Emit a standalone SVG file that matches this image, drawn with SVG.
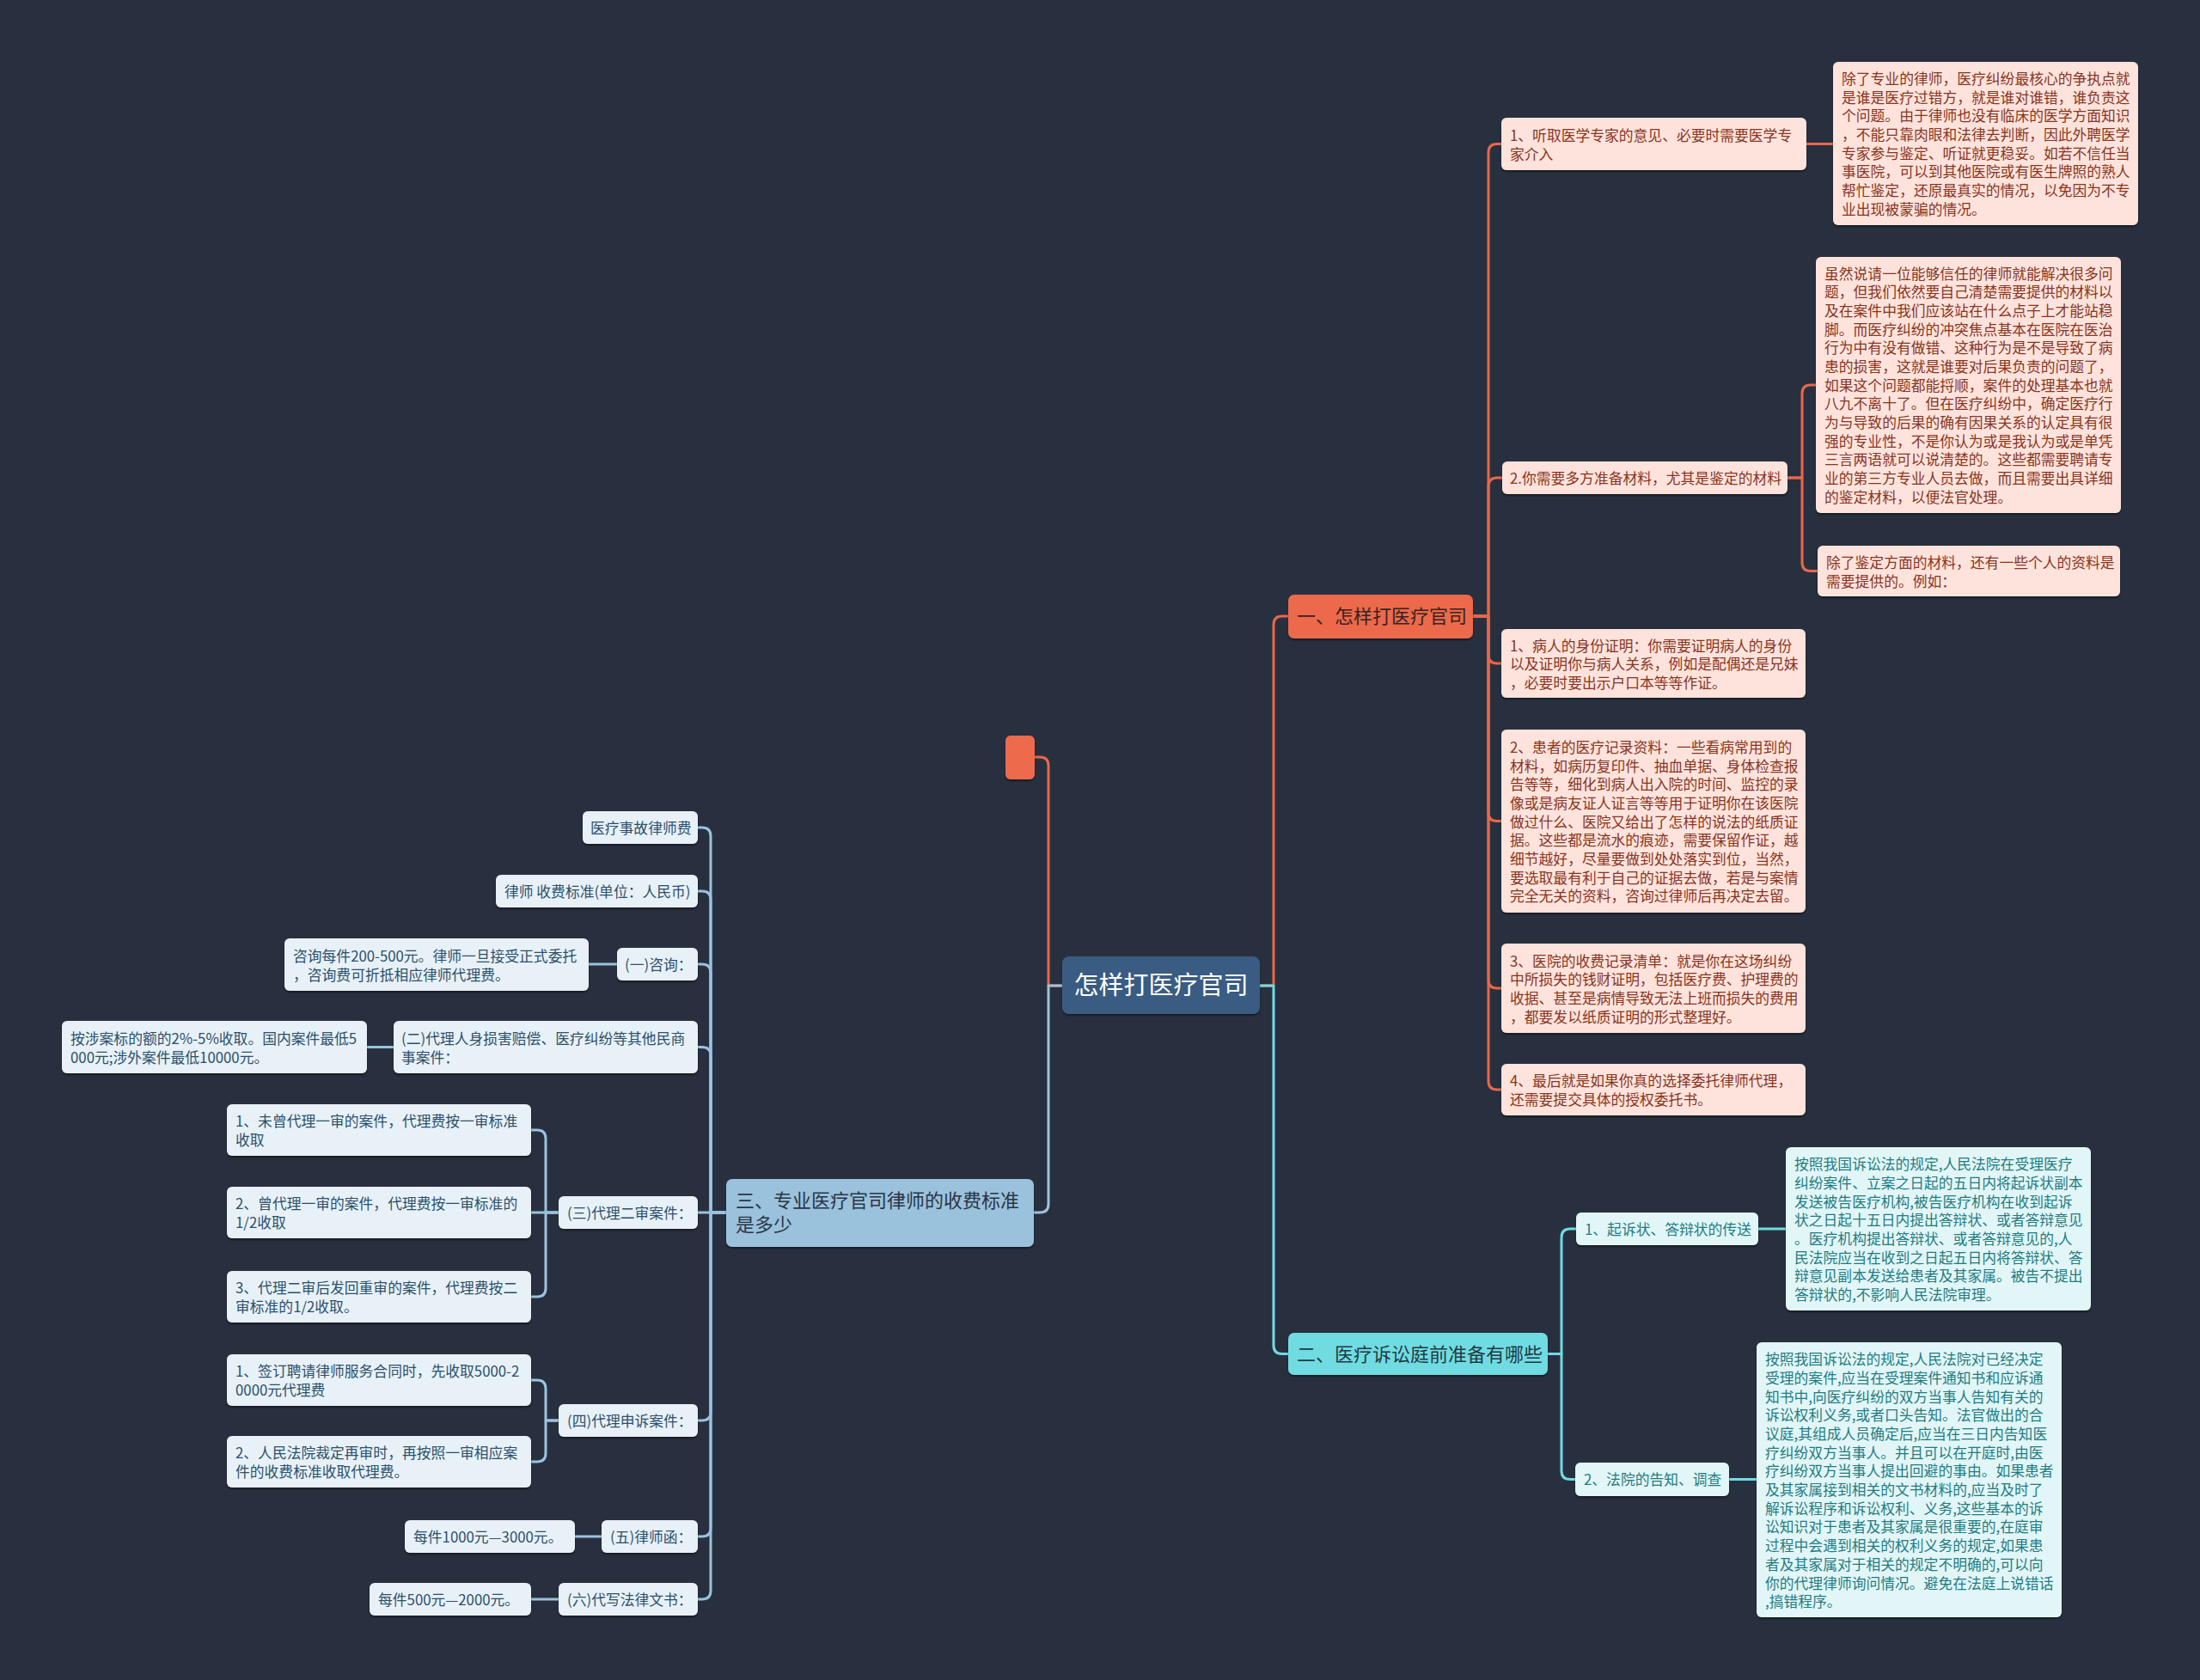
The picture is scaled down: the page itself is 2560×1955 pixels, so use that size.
<svg xmlns="http://www.w3.org/2000/svg" width="2560" height="1955" viewBox="0 0 2560 1955">
<defs>
<filter id="sh" x="-5%" y="-5%" width="110%" height="120%">
<feDropShadow dx="0" dy="2" stdDeviation="1.2" flood-color="#000" flood-opacity="0.45"/>
</filter>
<style>
text{font-family:"Noto Sans CJK SC","Noto Sans",sans-serif;font-size:16.8px}
.or{fill:#fde3dc;filter:url(#sh)}
.cy{fill:#e2f6f7;filter:url(#sh)}
.bl{fill:#e8f1f7;filter:url(#sh)}
.tor{fill:#8a3421}
.tcy{fill:#1f7c83}
.tbl{fill:#2b506d}
.c{fill:none;stroke-width:3;stroke-linecap:round;stroke-linejoin:round}
.cor{stroke:#e8674b}
.ccy{stroke:#6fdce2}
.cbl{stroke:#9ac3dd}
.h1{font-size:22px}
</style>
</defs>
<rect x="0" y="0" width="2560" height="1955" fill="#28303f"/>

<g id="connectors">
<path class="c cor" d="M1236,1147 H1220 V891 Q1220,881 1210,881 H1204"/>
<path class="c cbl" d="M1236,1147 H1220 V1401 Q1220,1411 1210,1411 H1203"/>
<path class="c cor" d="M1466,1147 H1482 V727 Q1482,717 1492,717 H1499"/>
<path class="c ccy" d="M1466,1147 H1482 V1565.5 Q1482,1575.5 1492,1575.5 H1499"/>

<path class="c cor" d="M1714,717 H1732 V177.5 Q1732,167.5 1742,167.5 H1747"/>
<path class="c cor" d="M1714,717 H1732 V566 Q1732,556 1742,556 H1748"/>
<path class="c cor" d="M1714,717 H1732 V762 Q1732,772 1742,772 H1747"/>
<path class="c cor" d="M1714,717 H1732 V945.5 Q1732,955.5 1742,955.5 H1747"/>
<path class="c cor" d="M1714,717 H1732 V1140 Q1732,1150 1742,1150 H1747"/>
<path class="c cor" d="M1714,717 H1732 V1258 Q1732,1268 1742,1268 H1747"/>
<path class="c cor" d="M2102,167.5 H2133"/>
<path class="c cor" d="M2080,556 H2097 V458 Q2097,448 2107,448 H2113"/>
<path class="c cor" d="M2080,556 H2097 V654.5 Q2097,664.5 2107,664.5 H2115"/>

<path class="c ccy" d="M1801,1575.5 H1817 V1440 Q1817,1430 1827,1430 H1834"/>
<path class="c ccy" d="M1801,1575.5 H1817 V1711.5 Q1817,1721.5 1827,1721.5 H1833"/>
<path class="c ccy" d="M2046,1430 H2078"/>
<path class="c ccy" d="M2012,1721.5 H2044"/>

<path class="c cbl" d="M845,1411 H827 V973 Q827,963 817,963 H812"/>
<path class="c cbl" d="M845,1411 H827 V1047 Q827,1037 817,1037 H812"/>
<path class="c cbl" d="M845,1411 H827 V1132 Q827,1122 817,1122 H812"/>
<path class="c cbl" d="M845,1411 H827 V1228.5 Q827,1218.5 817,1218.5 H812"/>
<path class="c cbl" d="M845,1411 H812"/>
<path class="c cbl" d="M845,1411 H827 V1643 Q827,1653 817,1653 H812"/>
<path class="c cbl" d="M845,1411 H827 V1778 Q827,1788 817,1788 H812"/>
<path class="c cbl" d="M845,1411 H827 V1851 Q827,1861 817,1861 H812"/>
<path class="c cbl" d="M718,1122 H685"/>
<path class="c cbl" d="M458,1218.5 H427"/>
<path class="c cbl" d="M650,1411 H635 V1325 Q635,1315 625,1315 H618"/>
<path class="c cbl" d="M650,1411 H618"/>
<path class="c cbl" d="M650,1411 H635 V1499 Q635,1509 625,1509 H618"/>
<path class="c cbl" d="M650,1653 H635 V1616 Q635,1606 625,1606 H618"/>
<path class="c cbl" d="M650,1653 H635 V1691 Q635,1701 625,1701 H618"/>
<path class="c cbl" d="M700,1788 H669"/>
<path class="c cbl" d="M650,1861 H618"/>
</g>

<g id="root">
<rect x="1236" y="1113" width="230" height="67" rx="8" fill="#3b5b82" filter="url(#sh)"/>
<text x="1351" y="1157" text-anchor="middle" fill="#ffffff" style="font-size:29px">怎样打医疗官司</text>
</g>

<g id="empty-topic">
<rect x="1170" y="856" width="34" height="51" rx="6" fill="#ee6b4d" filter="url(#sh)"/>
</g>

<g id="b1">
<rect x="1499" y="692" width="215" height="51" rx="7" fill="#ec6a4c" filter="url(#sh)"/>
<text class="h1" x="1509" y="725" fill="#3a2220">一、怎样打医疗官司</text>
</g>

<g id="b2">
<rect x="1499" y="1551" width="302" height="49" rx="7" fill="#6fdce2" filter="url(#sh)"/>
<text class="h1" x="1509" y="1583.5" fill="#1f3a44">二、医疗诉讼庭前准备有哪些</text>
</g>

<g id="b3">
<rect x="845" y="1372" width="358" height="79" rx="7" fill="#9ac2dc" filter="url(#sh)"/>
<text class="h1" fill="#2a3547"><tspan x="856" y="1405">三、专业医疗官司律师的收费标准</tspan><tspan x="856" y="1433">是多少</tspan></text>
</g>

<g id="b1-1">
<rect class="or" x="1747" y="137" width="355" height="61" rx="6"/>
<text class="tor"><tspan x="1757" y="163.5">1、听取医学专家的意见、必要时需要医学专</tspan><tspan x="1757" y="185.5">家介入</tspan></text>
</g>

<g id="b1-1-1">
<rect class="or" x="2133" y="72" width="355" height="190" rx="6"/>
<text class="tor"><tspan x="2143" y="98">除了专业的律师，医疗纠纷最核心的争执点就</tspan><tspan x="2143" y="119.5">是谁是医疗过错方，就是谁对谁错，谁负责这</tspan><tspan x="2143" y="141">个问题。由于律师也没有临床的医学方面知识</tspan><tspan x="2143" y="163">，不能只靠肉眼和法律去判断，因此外聘医学</tspan><tspan x="2143" y="184.5">专家参与鉴定、听证就更稳妥。如若不信任当</tspan><tspan x="2143" y="206">事医院，可以到其他医院或有医生牌照的熟人</tspan><tspan x="2143" y="228">帮忙鉴定，还原最真实的情况，以免因为不专</tspan><tspan x="2143" y="249.5">业出现被蒙骗的情况。</tspan></text>
</g>

<g id="b1-2">
<rect class="or" x="1748" y="537" width="332" height="38" rx="6"/>
<text class="tor" x="1757" y="562.5">2.你需要多方准备材料，尤其是鉴定的材料</text>
</g>

<g id="b1-2-1">
<rect class="or" x="2113" y="299" width="355" height="298" rx="6"/>
<text class="tor"><tspan x="2123" y="324.5">虽然说请一位能够信任的律师就能解决很多问</tspan><tspan x="2123" y="346">题，但我们依然要自己清楚需要提供的材料以</tspan><tspan x="2123" y="368">及在案件中我们应该站在什么点子上才能站稳</tspan><tspan x="2123" y="389.5">脚。而医疗纠纷的冲突焦点基本在医院在医治</tspan><tspan x="2123" y="411">行为中有没有做错、这种行为是不是导致了病</tspan><tspan x="2123" y="433">患的损害，这就是谁要对后果负责的问题了，</tspan><tspan x="2123" y="454.5">如果这个问题都能捋顺，案件的处理基本也就</tspan><tspan x="2123" y="476">八九不离十了。但在医疗纠纷中，确定医疗行</tspan><tspan x="2123" y="498">为与导致的后果的确有因果关系的认定具有很</tspan><tspan x="2123" y="519.5">强的专业性，不是你认为或是我认为或是单凭</tspan><tspan x="2123" y="541">三言两语就可以说清楚的。这些都需要聘请专</tspan><tspan x="2123" y="563">业的第三方专业人员去做，而且需要出具详细</tspan><tspan x="2123" y="584.5">的鉴定材料，以便法官处理。</tspan></text>
</g>

<g id="b1-2-2">
<rect class="or" x="2115" y="635" width="352" height="59" rx="6"/>
<text class="tor"><tspan x="2125" y="660.5">除了鉴定方面的材料，还有一些个人的资料是</tspan><tspan x="2125" y="682.5">需要提供的。例如：</tspan></text>
</g>

<g id="b1-3">
<rect class="or" x="1747" y="732" width="354" height="80" rx="6"/>
<text class="tor"><tspan x="1757" y="757.5">1、病人的身份证明：你需要证明病人的身份</tspan><tspan x="1757" y="779">以及证明你与病人关系，例如是配偶还是兄妹</tspan><tspan x="1757" y="800.5">，必要时要出示户口本等等作证。</tspan></text>
</g>

<g id="b1-4">
<rect class="or" x="1747" y="849" width="354" height="213" rx="6"/>
<text class="tor"><tspan x="1757" y="876">2、患者的医疗记录资料：一些看病常用到的</tspan><tspan x="1757" y="897.5">材料，如病历复印件、抽血单据、身体检查报</tspan><tspan x="1757" y="919">告等等，细化到病人出入院的时间、监控的录</tspan><tspan x="1757" y="941">像或是病友证人证言等等用于证明你在该医院</tspan><tspan x="1757" y="962.5">做过什么、医院又给出了怎样的说法的纸质证</tspan><tspan x="1757" y="984">据。这些都是流水的痕迹，需要保留作证，越</tspan><tspan x="1757" y="1006">细节越好，尽量要做到处处落实到位，当然，</tspan><tspan x="1757" y="1027.5">要选取最有利于自己的证据去做，若是与案情</tspan><tspan x="1757" y="1049">完全无关的资料，咨询过律师后再决定去留。</tspan></text>
</g>

<g id="b1-5">
<rect class="or" x="1747" y="1098" width="354" height="104" rx="6"/>
<text class="tor"><tspan x="1757" y="1124.5">3、医院的收费记录清单：就是你在这场纠纷</tspan><tspan x="1757" y="1146">中所损失的钱财证明，包括医疗费、护理费的</tspan><tspan x="1757" y="1168">收据、甚至是病情导致无法上班而损失的费用</tspan><tspan x="1757" y="1189.5">，都要发以纸质证明的形式整理好。</tspan></text>
</g>

<g id="b1-6">
<rect class="or" x="1747" y="1238" width="354" height="60" rx="6"/>
<text class="tor"><tspan x="1757" y="1264">4、最后就是如果你真的选择委托律师代理，</tspan><tspan x="1757" y="1286">还需要提交具体的授权委托书。</tspan></text>
</g>

<g id="b2-1">
<rect class="cy" x="1834" y="1411" width="212" height="38" rx="6"/>
<text class="tcy" x="1844" y="1436.5">1、起诉状、答辩状的传送</text>
</g>

<g id="b2-1-1">
<rect class="cy" x="2078" y="1335" width="355" height="190" rx="6"/>
<text class="tcy"><tspan x="2088" y="1361">按照我国诉讼法的规定,人民法院在受理医疗</tspan><tspan x="2088" y="1382.5">纠纷案件、立案之日起的五日内将起诉状副本</tspan><tspan x="2088" y="1404.5">发送被告医疗机构,被告医疗机构在收到起诉</tspan><tspan x="2088" y="1426">状之日起十五日内提出答辩状、或者答辩意见</tspan><tspan x="2088" y="1448">。医疗机构提出答辩状、或者答辩意见的,人</tspan><tspan x="2088" y="1469.5">民法院应当在收到之日起五日内将答辩状、答</tspan><tspan x="2088" y="1491">辩意见副本发送给患者及其家属。被告不提出</tspan><tspan x="2088" y="1513">答辩状的,不影响人民法院审理。</tspan></text>
</g>

<g id="b2-2">
<rect class="cy" x="1833" y="1702" width="179" height="39" rx="6"/>
<text class="tcy" x="1843" y="1728">2、法院的告知、调查</text>
</g>

<g id="b2-2-1">
<rect class="cy" x="2044" y="1562" width="355" height="320" rx="6"/>
<text class="tcy"><tspan x="2054" y="1588">按照我国诉讼法的规定,人民法院对已经决定</tspan><tspan x="2054" y="1609.5">受理的案件,应当在受理案件通知书和应诉通</tspan><tspan x="2054" y="1631.5">知书中,向医疗纠纷的双方当事人告知有关的</tspan><tspan x="2054" y="1653">诉讼权利义务,或者口头告知。法官做出的合</tspan><tspan x="2054" y="1675">议庭,其组成人员确定后,应当在三日内告知医</tspan><tspan x="2054" y="1696.5">疗纠纷双方当事人。并且可以在开庭时,由医</tspan><tspan x="2054" y="1718">疗纠纷双方当事人提出回避的事由。如果患者</tspan><tspan x="2054" y="1740">及其家属接到相关的文书材料的,应当及时了</tspan><tspan x="2054" y="1761.5">解诉讼程序和诉讼权利、义务,这些基本的诉</tspan><tspan x="2054" y="1783">讼知识对于患者及其家属是很重要的,在庭审</tspan><tspan x="2054" y="1805">过程中会遇到相关的权利义务的规定,如果患</tspan><tspan x="2054" y="1826.5">者及其家属对于相关的规定不明确的,可以向</tspan><tspan x="2054" y="1848.5">你的代理律师询问情况。避免在法庭上说错话</tspan><tspan x="2054" y="1870">,搞错程序。</tspan></text>
</g>

<g id="b3-1">
<rect class="bl" x="678" y="944" width="134" height="38" rx="6"/>
<text class="tbl" x="687" y="969.5">医疗事故律师费</text>
</g>

<g id="b3-2">
<rect class="bl" x="577" y="1018" width="235" height="38" rx="6"/>
<text class="tbl" x="587" y="1043.5">律师 收费标准(单位：人民币)</text>
</g>

<g id="b3-3">
<rect class="bl" x="718" y="1103" width="94" height="38" rx="6"/>
<text class="tbl" x="727" y="1128.5">(一)咨询：</text>
</g>

<g id="b3-3-1">
<rect class="bl" x="331" y="1092" width="354" height="61" rx="6"/>
<text class="tbl"><tspan x="341" y="1118.5">咨询每件200-500元。律师一旦接受正式委托</tspan><tspan x="341" y="1140.5">，咨询费可折抵相应律师代理费。</tspan></text>
</g>

<g id="b3-4">
<rect class="bl" x="458" y="1188" width="354" height="61" rx="6"/>
<text class="tbl"><tspan x="467" y="1214.5">(二)代理人身损害赔偿、医疗纠纷等其他民商</tspan><tspan x="467" y="1236.5">事案件：</tspan></text>
</g>

<g id="b3-4-1">
<rect class="bl" x="72" y="1188" width="355" height="61" rx="6"/>
<text class="tbl"><tspan x="82" y="1214.5">按涉案标的额的2%-5%收取。国内案件最低5</tspan><tspan x="82" y="1236.5">000元;涉外案件最低10000元。</tspan></text>
</g>

<g id="b3-5">
<rect class="bl" x="650" y="1392" width="162" height="38" rx="6"/>
<text class="tbl" x="660" y="1417.5">(三)代理二审案件：</text>
</g>

<g id="b3-5-1">
<rect class="bl" x="264" y="1285" width="354" height="60" rx="6"/>
<text class="tbl"><tspan x="274" y="1311">1、未曾代理一审的案件，代理费按一审标准</tspan><tspan x="274" y="1333">收取</tspan></text>
</g>

<g id="b3-5-2">
<rect class="bl" x="264" y="1381" width="354" height="60" rx="6"/>
<text class="tbl"><tspan x="274" y="1407">2、曾代理一审的案件，代理费按一审标准的</tspan><tspan x="274" y="1429">1/2收取</tspan></text>
</g>

<g id="b3-5-3">
<rect class="bl" x="264" y="1479" width="354" height="60" rx="6"/>
<text class="tbl"><tspan x="274" y="1505">3、代理二审后发回重审的案件，代理费按二</tspan><tspan x="274" y="1527">审标准的1/2收取。</tspan></text>
</g>

<g id="b3-6">
<rect class="bl" x="650" y="1634" width="162" height="38" rx="6"/>
<text class="tbl" x="660" y="1659.5">(四)代理申诉案件：</text>
</g>

<g id="b3-6-1">
<rect class="bl" x="264" y="1576" width="354" height="60" rx="6"/>
<text class="tbl"><tspan x="274" y="1602">1、签订聘请律师服务合同时，先收取5000-2</tspan><tspan x="274" y="1624">0000元代理费</tspan></text>
</g>

<g id="b3-6-2">
<rect class="bl" x="264" y="1671" width="354" height="60" rx="6"/>
<text class="tbl"><tspan x="274" y="1697">2、人民法院裁定再审时，再按照一审相应案</tspan><tspan x="274" y="1719">件的收费标准收取代理费。</tspan></text>
</g>

<g id="b3-7">
<rect class="bl" x="700" y="1769" width="112" height="38" rx="6"/>
<text class="tbl" x="710" y="1794.5">(五)律师函：</text>
</g>

<g id="b3-7-1">
<rect class="bl" x="471" y="1769" width="198" height="38" rx="6"/>
<text class="tbl" x="481" y="1794.5">每件1000元—3000元。</text>
</g>

<g id="b3-8">
<rect class="bl" x="650" y="1842" width="162" height="38" rx="6"/>
<text class="tbl" x="660" y="1867.5">(六)代写法律文书：</text>
</g>

<g id="b3-8-1">
<rect class="bl" x="430" y="1842" width="188" height="38" rx="6"/>
<text class="tbl" x="440" y="1867.5">每件500元—2000元。</text>
</g>
</svg>
